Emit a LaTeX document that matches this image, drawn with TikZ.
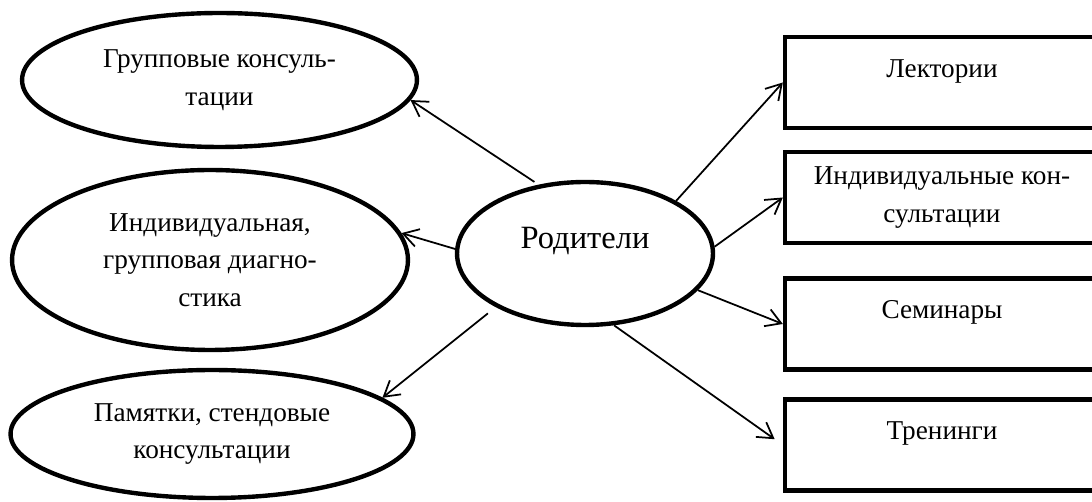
\documentclass[tikz,border=0pt]{standalone}
\usepackage{fontspec}
\setmainfont{Liberation Serif}
\usepackage{xcolor}
\usepackage{tikz}
\usetikzlibrary{shapes.geometric, arrows.meta}

\begin{document}
\begin{tikzpicture}[x=0.02cm, y=-0.02cm,
    oval/.style={ellipse, draw=black, line width=2.5pt, align=center, inner sep=0pt,
      font=\fontsize{15.5}{21.5}\selectfont},
    formbox/.style={rectangle, draw=black, line width=2.5pt, align=center, inner sep=0pt,
      minimum width=6.28cm, minimum height=1.82cm, font=\fontsize{15.5}{21.5}\selectfont},
    topline/.style={text height=10.5pt, text depth=16.7pt},
    link/.style={line width=1pt, -{Straight Barb[length=0.3cm, width=0.36cm]}}]
  \useasboundingbox (0,0) rectangle (1092,502);

  % centre: parents
  \node[oval, minimum width=5.12cm, minimum height=2.86cm, font=\fontsize{18.5}{22}\selectfont,
    text height=12.5pt, text depth=17.7pt] (parents) at (585,253.5) {Родители};

  % left-hand forms (ellipses)
  \node[oval, minimum width=7.9cm, minimum height=2.68cm] (groupcons) at (219.5,80)
    {Групповые консуль-\\тации};
  \node[oval, minimum width=7.92cm, minimum height=3.6cm] (diagn) at (210,260)
    {Индивидуальная,\\групповая диагно-\\стика};
  \node[oval, minimum width=8.06cm, minimum height=2.56cm] (memos) at (212,434)
    {Памятки, стендовые\\консультации};

  % right-hand forms (boxes, cut by the page edge)
  \node[formbox, topline] (lectures) at (942,82.5) {Лектории};
  \node[formbox] (indcons) at (942,197.5) {Индивидуальные кон-\\сультации};
  \node[formbox, topline] (seminars) at (942,324) {Семинары};
  \node[formbox, topline] (trainings) at (942,445) {Тренинги};

  % arrows out of the centre
  \draw[link, shorten <=0.1cm] (parents.124) -- (groupcons.-6);
  \draw[link] (parents.178) -- (diagn.8);
  \draw[link, shorten <=0.2cm] (parents.211) -- (memos.12);
  \draw[link] (parents.30) -- (lectures.west);
  \draw[link] (parents.3) -- (indcons.west);
  \draw[link] (parents.-18) -- (seminars.west);
  \draw[link, shorten >=0.2cm] (parents.-68) -- (trainings.west);
\end{tikzpicture}
\end{document}
